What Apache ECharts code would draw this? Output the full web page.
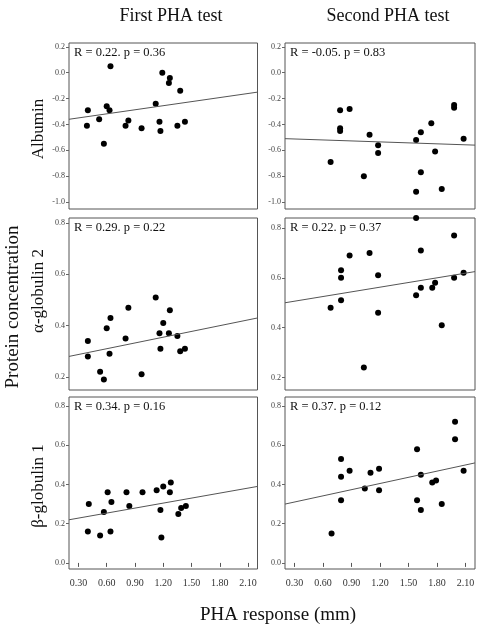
<!DOCTYPE html>
<html><head><meta charset="utf-8">
<style>html,body{margin:0;padding:0;background:#fff}#c{width:478px;height:628px}</style>
<script src="https://cdn.jsdelivr.net/npm/echarts@6/dist/echarts.min.js"></script>
</head><body><div id="c"></div>
<script>
// ---------- data ----------
const columnTitles = ['First PHA test', 'Second PHA test'];
const rowLabels = ['Albumin', 'α-globulin 2', 'β-globulin 1'];
const yAxisTitle = 'Protein concentration';
const xAxisTitle = 'PHA response (mm)';
const xTicks = [0.3, 0.6, 0.9, 1.2, 1.5, 1.8, 2.1];
const albuminTicks = [-1.0, -0.8, -0.6, -0.4, -0.2, 0.0, 0.2];
const alphaTicks = [0.2, 0.4, 0.6, 0.8];
const betaTicks = [0.0, 0.2, 0.4, 0.6, 0.8];

const albuminFirst = [[0.64,0.05],[0.40,-0.29],[0.39,-0.41],[0.52,-0.36],[0.60,-0.26],[0.63,-0.29],[0.57,-0.55],[0.83,-0.37],[0.80,-0.41],[0.97,-0.43],[1.12,-0.24],[1.16,-0.38],[1.17,-0.45],[1.19,0.00],[1.27,-0.04],[1.26,-0.08],[1.38,-0.14],[1.35,-0.41],[1.43,-0.38]];
const albuminSecond = [[0.68,-0.69],[0.78,-0.29],[0.88,-0.28],[0.78,-0.43],[0.78,-0.45],[1.03,-0.80],[1.09,-0.48],[1.18,-0.56],[1.18,-0.62],[1.58,-0.52],[1.63,-0.46],[1.63,-0.77],[1.58,-0.92],[1.74,-0.39],[1.78,-0.61],[1.85,-0.90],[1.98,-0.25],[1.98,-0.27],[2.08,-0.51]];
const alphaFirst = [[0.40,0.34],[0.40,0.28],[0.60,0.39],[0.64,0.43],[0.63,0.29],[0.83,0.47],[0.80,0.35],[1.12,0.51],[1.16,0.37],[1.17,0.31],[1.20,0.41],[1.27,0.46],[1.26,0.37],[1.35,0.36],[1.38,0.30],[1.43,0.31],[0.53,0.22],[0.57,0.19],[0.97,0.21]];
const alphaSecond = [[1.58,0.84],[1.98,0.77],[0.88,0.69],[1.09,0.70],[1.63,0.71],[0.79,0.63],[0.79,0.60],[1.18,0.61],[1.98,0.60],[2.08,0.62],[1.78,0.58],[1.75,0.56],[1.63,0.56],[1.58,0.53],[0.79,0.51],[0.68,0.48],[1.18,0.46],[1.85,0.41],[1.03,0.24]];
const betaFirst = [[0.41,0.30],[0.61,0.36],[0.57,0.26],[0.65,0.31],[0.81,0.36],[0.84,0.29],[0.98,0.36],[1.13,0.37],[1.20,0.39],[1.28,0.41],[1.27,0.36],[1.17,0.27],[1.36,0.25],[1.39,0.28],[1.44,0.29],[0.40,0.16],[0.53,0.14],[0.64,0.16],[1.18,0.13]];
const betaSecond = [[1.99,0.72],[1.99,0.63],[1.59,0.58],[0.79,0.53],[0.88,0.47],[1.19,0.48],[1.10,0.46],[0.79,0.44],[1.63,0.45],[2.08,0.47],[1.79,0.42],[1.75,0.41],[1.04,0.38],[1.19,0.37],[0.79,0.32],[1.59,0.32],[1.63,0.27],[1.85,0.30],[0.69,0.15]];

const albuminFirstFit = [[0.2,-0.36],[2.2,-0.15]];
const albuminSecondFit = [[0.2,-0.51],[2.2,-0.56]];
const alphaFirstFit = [[0.2,0.28],[2.2,0.43]];
const alphaSecondFit = [[0.2,0.50],[2.2,0.625]];
const betaFirstFit = [[0.2,0.22],[2.2,0.39]];
const betaSecondFit = [[0.2,0.30],[2.2,0.51]];

const notes = ['R = 0.22. p = 0.36','R = -0.05. p = 0.83','R = 0.29. p = 0.22','R = 0.22. p = 0.37','R = 0.34. p = 0.16','R = 0.37. p = 0.12'];

// ---------- layout ----------
const serif = '"Liberation Serif", "Times New Roman", serif';
const colLeft = [69, 285], colWidth = [188.5, 190];
const rowTop = [43, 218, 397], rowHeight = [166, 172, 172];

const panels = [
  {data: albuminFirst,  fit: albuminFirstFit,  ticks: albuminTicks, min: -1.054, max: 0.23,  r: 0, c: 0},
  {data: albuminSecond, fit: albuminSecondFit, ticks: albuminTicks, min: -1.054, max: 0.23,  r: 0, c: 1},
  {data: alphaFirst,    fit: alphaFirstFit,    ticks: alphaTicks,   min: 0.149,  max: 0.82,  r: 1, c: 0},
  {data: alphaSecond,   fit: alphaSecondFit,   ticks: alphaTicks,   min: 0.15,   max: 0.84,  r: 1, c: 1},
  {data: betaFirst,     fit: betaFirstFit,     ticks: betaTicks,    min: -0.031, max: 0.846, r: 2, c: 0},
  {data: betaSecond,    fit: betaSecondFit,    ticks: betaTicks,    min: -0.031, max: 0.846, r: 2, c: 1}
];

const grid = [], xAxis = [], yAxis = [], series = [], graphic = [];
panels.forEach((p, i) => {
  const L = colLeft[p.c], T = rowTop[p.r];
  grid.push({left: L, top: T, width: colWidth[p.c], height: rowHeight[p.r], show: true,
    borderColor: '#555', borderWidth: 1, backgroundColor: 'transparent', containLabel: false});
  const bottomRow = p.r === 2;
  xAxis.push({type: 'value', gridIndex: i, min: 0.2, max: 2.2,
    axisLine: {show: false}, splitLine: {show: false},
    axisTick: {show: bottomRow, length: 4, customValues: xTicks, lineStyle: {color: '#555'}},
    axisLabel: {show: bottomRow, customValues: xTicks, margin: 9, fontSize: 10, color: '#333',
      fontFamily: serif, formatter: v => Number(v).toFixed(2)}});
  yAxis.push({type: 'value', gridIndex: i, min: p.min, max: p.max,
    axisLine: {show: false}, splitLine: {show: false},
    axisTick: {show: true, length: 3, customValues: p.ticks, lineStyle: {color: '#666'}},
    axisLabel: {customValues: p.ticks, margin: 4, fontSize: 8, color: '#444',
      fontFamily: serif, formatter: v => Number(v).toFixed(1)}});
  series.push({type: 'scatter', xAxisIndex: i, yAxisIndex: i, data: p.data, symbolSize: 6,
    itemStyle: {color: '#000', opacity: 1}, silent: true, clip: false});
  series.push({type: 'line', xAxisIndex: i, yAxisIndex: i, data: p.fit, symbol: 'none', showSymbol: false,
    lineStyle: {color: '#555', width: 1}, silent: true});
  graphic.push({type: 'text', x: L + 5, y: T + 10, silent: true,
    style: {text: notes[i], font: '12.5px ' + serif, fill: '#111', textAlign: 'left', textVerticalAlign: 'middle',
      align: 'left', verticalAlign: 'middle'}});
});

function label(text, x, y, size, rot) {
  return {type: 'text', x: x, y: y, rotation: rot || 0, silent: true,
    style: {text: text, font: size + 'px ' + serif, fill: '#111', textAlign: 'center', textVerticalAlign: 'middle',
      align: 'center', verticalAlign: 'middle'}};
}
graphic.push(label(columnTitles[0], 171, 16, 18));
graphic.push(label(columnTitles[1], 388, 16, 18));
graphic.push(label(rowLabels[0], 39, 129, 17, Math.PI / 2));
graphic.push(label(rowLabels[1], 39, 291, 17, Math.PI / 2));
graphic.push(label(rowLabels[2], 39, 486, 17, Math.PI / 2));
graphic.push(label(yAxisTitle, 13, 307, 19, Math.PI / 2));
graphic.push(label(xAxisTitle, 278, 615, 19));

const chart = echarts.init(document.getElementById('c'), null, {renderer: 'canvas'});
chart.setOption({animation: false, backgroundColor: '#fff', grid, xAxis, yAxis, series, graphic});
</script></body></html>
